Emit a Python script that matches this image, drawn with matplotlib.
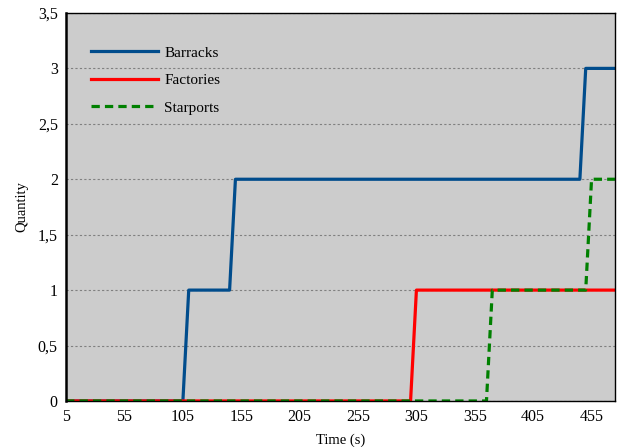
import numpy as np
import matplotlib.pyplot as plt
from matplotlib.ticker import FuncFormatter

# breakpoints
barracks_t = [5, 105, 110, 145, 150, 445, 450, 475]
barracks_n = [0, 0, 1, 1, 2, 2, 3, 3]

factories_t = [5, 300, 305, 475]
factories_n = [0, 0, 1, 1]

starports_t = [5, 365, 370, 450, 455, 475]
starports_n = [0, 0, 1, 1, 2, 2]

xticks = [5, 55, 105, 155, 205, 255, 305, 355, 405, 455]
yticks = [0, 0.5, 1, 1.5, 2, 2.5, 3, 3.5]

plt.rcParams['font.family'] = ['Liberation Serif', 'DejaVu Serif']

fig = plt.figure(figsize=(6.18, 4.47), dpi=100)
ax = fig.add_axes([0.107, 0.103, 0.888, 0.868])
ax.set_facecolor('#cccccc')

ax.plot(barracks_t, barracks_n, '-', color='#004c8c', linewidth=2.3, label='Barracks')
ax.plot(factories_t, factories_n, '-', color='#ff0000', linewidth=2.3, label='Factories')
ax.plot(starports_t, starports_n, '--', color='#008000', linewidth=2.3,
        dashes=(2.6, 1.6), label='Starports')

ax.set_xlim(5, 475)
ax.set_ylim(0, 3.5)
ax.set_xticks(xticks)
ax.set_yticks(yticks)
ax.yaxis.set_major_formatter(FuncFormatter(lambda v, p: ('%g' % v).replace('.', ',')))
ax.tick_params(length=0, labelsize=11.5, pad=6)

ax.grid(True, axis='y', color='#808080', linestyle=(0, (2, 2)), linewidth=0.8)
ax.set_axisbelow(True)

for side in ['top', 'right', 'bottom']:
    ax.spines[side].set_linewidth(1.0)
ax.spines['left'].set_linewidth(1.8)

ax.set_xlabel('Time (s)', fontsize=10.5, labelpad=6)
ax.set_ylabel('Quantity', fontsize=10.5, labelpad=7)

ax.legend(loc='upper left', frameon=False, fontsize=11, handlelength=4.4,
          labelspacing=0.9, bbox_to_anchor=(0.02, 0.95), handletextpad=0.4)

plt.savefig('out.png', dpi=100)
